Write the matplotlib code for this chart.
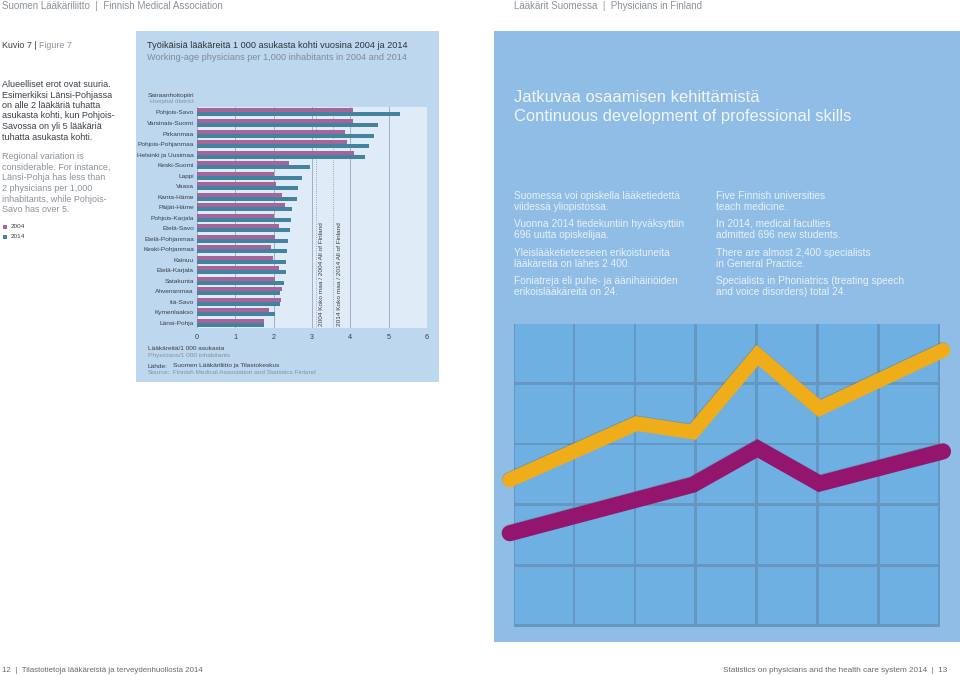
import matplotlib
matplotlib.use("Agg")
import matplotlib.pyplot as plt
import matplotlib.patheffects as pe
from matplotlib.patches import Rectangle
import numpy as np

plt.rcParams['font.family'] = ['Liberation Sans', 'DejaVu Sans']

# Data

districts = ["Pohjois-Savo", "Varsinais-Suomi", "Pirkanmaa", "Pohjois-Pohjanmaa", "Helsinki ja Uusimaa",
             "Keski-Suomi", "Lappi", "Vaasa", "Kanta-Häme", "Päijät-Häme", "Pohjois-Karjala", "Etelä-Savo",
             "Etelä-Pohjanmaa", "Keski-Pohjanmaa", "Kainuu", "Etelä-Karjala", "Satakunta", "Ahvenanmaa",
             "Itä-Savo", "Kymenlaakso", "Länsi-Pohja"]
val_2004 = [4.08, 4.08, 3.85, 3.91, 4.10, 2.41, 2.00, 2.06, 2.21, 2.30, 2.02, 2.14, 2.04, 1.92, 1.97, 2.13,
            2.04, 2.23, 2.20, 1.87, 1.74]
val_2014 = [5.30, 4.72, 4.63, 4.48, 4.37, 2.95, 2.74, 2.63, 2.61, 2.48, 2.45, 2.43, 2.37, 2.35, 2.33, 2.31,
            2.27, 2.17, 2.16, 2.03, 1.74]
finland_2004 = 3.1
finland_2014 = 3.56
x_ticks = [0, 1, 2, 3, 4, 5, 6]

# decorative line chart on the right page
deco_x_yellow = [-0.07, 2.01, 2.94, 4.0, 5.02, 7.05]
deco_y_yellow = [2.41, 3.34, 3.20, 4.47, 3.59, 4.55]
deco_x_purple = [-0.07, 2.94, 4.0, 5.02, 7.05]
deco_y_purple = [1.53, 2.33, 2.93, 2.35, 2.88]

# Colours

purple = "#a4669a"
teal = "#43839f"
panel = "#bdd7ee"
plot_bg = "#dfebf7"
dark = "#3a3f45"
grey = "#8b929a"
small_grey = "#87929c"
W, H = 960, 676

fig = plt.figure(figsize=(9.6, 6.76), dpi=100, facecolor="white")


def px_axes(x0, y0, x1, y1):
    return fig.add_axes([x0 / W, 1 - y1 / H, (x1 - x0) / W, (y1 - y0) / H])


# Background axes in pixels, used for panels and text

bg = fig.add_axes([0, 0, 1, 1])
bg.set_xlim(0, W)
bg.set_ylim(H, 0)
bg.axis("off")
bg.add_patch(Rectangle((136, 31), 303, 351, color=panel, lw=0))
bg.add_patch(Rectangle((494, 31), 466, 611, color="#8fbde6", lw=0))


def txt(x, y, s, size=6.5, color=dark, ha="left", **kw):
    bg.text(x, y, s, fontsize=size, color=color, ha=ha, va="center", **kw)


# Page headers and footers

txt(2, 6, "Suomen Lääkäriliitto  |  Finnish Medical Association", 7.0, "#8b929a")
txt(514, 6, "Lääkärit Suomessa  |  Physicians in Finland", 7.0, "#8b929a")
txt(2, 670, "12  |  Tilastotietoja lääkäreistä ja terveydenhuollosta 2014", 5.7, "#666b70")
txt(947, 670, "Statistics on physicians and the health care system 2014  |  13", 5.9, "#666b70", ha="right")

# Left column

txt(2, 46, "Kuvio 7 |", 6.4)
txt(39, 46, "Figure 7", 6.4, grey)
left_fi = ["Alueelliset erot ovat suuria.", "Esimerkiksi Länsi-Pohjassa", "on alle 2 lääkäriä tuhatta",
           "asukasta kohti, kun Pohjois-", "Savossa on yli 5 lääkäriä", "tuhatta asukasta kohti."]
left_en = ["Regional variation is", "considerable. For instance,", "Länsi-Pohja has less than",
           "2 physicians per 1,000", "inhabitants, while Pohjois-", "Savo has over 5."]
for i, s in enumerate(left_fi):
    txt(2, 84.5 + 10.5 * i, s, 6.45)
for i, s in enumerate(left_en):
    txt(2, 156.7 + 10.6 * i, s, 6.45, grey)
bg.add_patch(Rectangle((2.5, 224.5), 4.5, 4.5, color=purple, lw=0))
bg.add_patch(Rectangle((2.5, 234.5), 4.5, 4.5, color=teal, lw=0))
txt(11, 226.7, "2004", 4.6)
txt(11, 236.7, "2014", 4.6)

# Chart panel text

txt(147, 46, "Työikäisiä lääkäreitä 1 000 asukasta kohti vuosina 2004 ja 2014", 6.6, "#2e3338")
txt(147, 57, "Working-age physicians per 1,000 inhabitants in 2004 and 2014", 6.6, "#7f8b97")
txt(194, 95, "Sairaanhoitopiiri", 4.65, ha="right")
txt(194, 101, "Hospital district", 4.65, small_grey, ha="right")
txt(147.5, 349, "Lääkäreitä/1 000 asukasta", 4.65)
txt(147.5, 355, "Physicians/1 000 inhabitants", 4.65, small_grey)
txt(147.5, 366, "Lähde:", 4.65)
txt(173, 366, "Suomen Lääkäriliitto ja Tilastokeskus", 4.65)
txt(147.5, 372.5, "Source:", 4.65, small_grey)
txt(173, 372.5, "Finnish Medical Association and Statistics Finland", 4.65, small_grey)

# Right page text

txt(514, 98, "Jatkuvaa osaamisen kehittämistä", 11.9, "#f2f7fc")
txt(514, 116, "Continuous development of professional skills", 11.9, "#f2f7fc")
col_fi = ["Suomessa voi opiskella lääketiedettä", "viidessä yliopistossa.", "Vuonna 2014 tiedekuntiin hyväksyttiin",
          "696 uutta opiskelijaa.", "Yleislääketieteeseen erikoistuneita", "lääkäreitä on lähes 2 400.",
          "Foniatreja eli puhe- ja äänihäiriöiden", "erikoislääkäreitä on 24."]
col_en = ["Five Finnish universities", "teach medicine.", "In 2014, medical faculties",
          "admitted 696 new students.", "There are almost 2,400 specialists", "in General Practice.",
          "Specialists in Phoniatrics (treating speech", "and voice disorders) total 24."]
col_y = [195.7, 207, 224, 235, 252.5, 263.7, 281, 292]
for y, a, b in zip(col_y, col_fi, col_en):
    txt(514, y, a, 7.3, "#e8f1fa")
    txt(716, y, b, 7.3, "#e8f1fa")

# Bar chart

ax = px_axes(197, 106.7, 427, 328.3)
ax.set_facecolor(plot_bg)
pos = np.arange(len(districts))
ax.barh(pos - 0.19, val_2004, height=0.38, color=purple, zorder=3)
ax.barh(pos + 0.19, val_2014, height=0.38, color=teal, zorder=3)
ax.set_xlim(0, 6)
ax.set_ylim(20.53, -0.55)
ax.set_xticks(x_ticks)
ax.set_yticks(pos)
ax.set_yticklabels(districts)
ax.tick_params(length=0, labelsize=4.65, labelcolor=dark, pad=2.2)
ax.tick_params(axis="x", labelsize=5.2, pad=4)
ax.grid(axis="x", color="#9fb0c0", lw=0.7, zorder=1)
ax.axvline(finland_2004, color="#7d90a3", lw=0.6, ls=":", zorder=2)
ax.axvline(finland_2014, color="#7d90a3", lw=0.6, ls=":", zorder=2)
for s in ax.spines.values():
    s.set_visible(False)
ax.text(finland_2004 + 0.16, 20.3, "2004 Koko maa / 2004 All of Finland", rotation=90, fontsize=4.65,
        color=dark, ha="center", va="bottom")
ax.text(finland_2014 + 0.16, 20.3, "2014 Koko maa / 2014 All of Finland", rotation=90, fontsize=4.65,
        color=dark, ha="center", va="bottom")

# Decorative line chart

deco = px_axes(514, 323, 940, 626)
deco.set_xlim(0, 7)
deco.set_ylim(0, 5)
deco.axis("off")
for c in range(7):
    for r in range(5):
        deco.add_patch(Rectangle((c + 0.005, r - 0.02), 1.0, 1.01, color="#6497c1", lw=0, clip_on=False))
for c in range(7):
    for r in range(5):
        deco.add_patch(Rectangle((c + 0.01, r + 0.025), 0.955, 0.955, color="#6eb0e2", lw=0))
shadow = [pe.SimpleLineShadow(offset=(-0.3, 0.5), shadow_color="#5a4a30", alpha=0.3), pe.Normal()]
deco.plot(deco_x_yellow, deco_y_yellow, color="#f0ad1a", lw=10.5, solid_capstyle="round",
          solid_joinstyle="miter", clip_on=False, zorder=5, path_effects=shadow)
deco.plot(deco_x_purple, deco_y_purple, color="#94156e", lw=11.5, solid_capstyle="round",
          solid_joinstyle="miter", clip_on=False, zorder=5, path_effects=shadow)

fig.savefig("out.png", dpi=100)
